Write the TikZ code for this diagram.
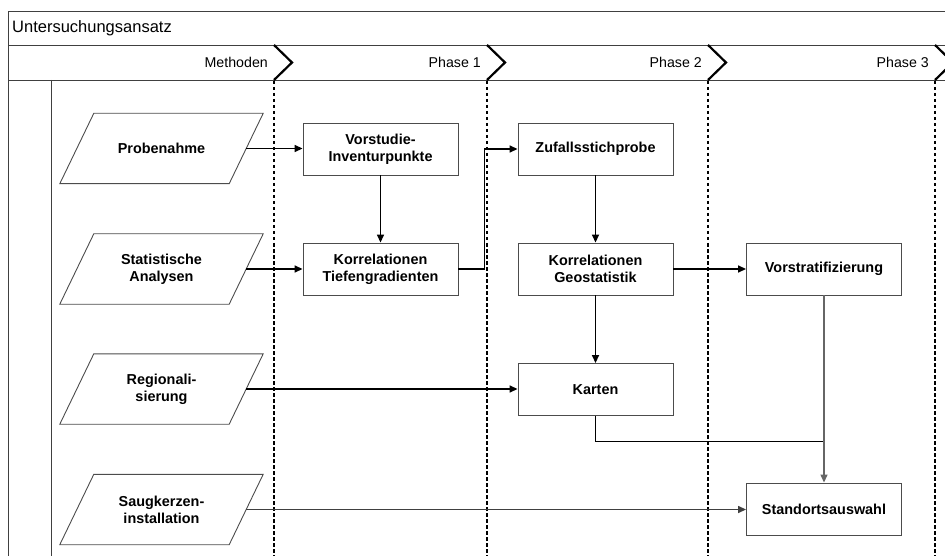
\documentclass[tikz,border=0pt]{standalone}
\usepackage{fontspec}
\setmainfont{Liberation Sans}
\usetikzlibrary{arrows.meta}
\begin{document}
\begin{tikzpicture}[x=1pt,y=-1pt,
  frame/.style={draw=black!75, line width=0.9pt},
  chev/.style={line width=2.2pt, line join=miter, miter limit=4},
  phaseline/.style={line width=2.3pt, dash pattern=on 3.5pt off 2.5pt},
  hdr/.style={anchor=east, inner sep=0pt, font=\fontsize{14.2}{17}\selectfont},
  box/.style={draw=black!70, fill=white, line width=0.9pt, minimum width=155pt, minimum height=52pt, align=center, font=\fontsize{14.4}{17}\selectfont\bfseries, inner sep=0pt},
  para/.style={minimum width=169pt, minimum height=70pt, align=center, font=\fontsize{14.4}{17}\selectfont\bfseries, inner sep=0pt},
  paraline/.style={draw=black!70, line width=0.9pt, line join=miter},
  arr/.style={line width=1.6pt, -{Triangle[length=8pt,width=7pt]}},
  link/.style={line width=1.6pt},
  ]
\useasboundingbox (0,0) rectangle (945,556);
% frame
\draw[frame] (945,11) -- (8,11) -- (8,556);
\draw[frame] (8,45) -- (945,45);
\draw[frame] (8,80) -- (945,80);
\draw[frame] (51,80) -- (51,556);
\node[anchor=west, inner sep=0pt, font=\fontsize{16.5}{19}\selectfont] (title) at (12,28) {Untersuchungsansatz};
% phase headers
\foreach \xx/\nm/\lab in {274/m/Methoden, 487/p1/Phase 1, 708/p2/Phase 2, 935/p3/Phase 3}{
  \node[hdr] (h\nm) at (\xx-6,62.5) {\lab};
  \draw[phaseline] (\xx,81) -- (\xx,556);
  \draw[chev] (\xx,45) -- (\xx+18,62.5) -- (\xx,80);
}
% methods (parallelograms)
\node[para] (prob) at (161.5,148.5) {Probenahme};
\node[para] (stat) at (161.5,269) {Statistische\\Analysen};
\node[para] (reg) at (161.5,389) {Regionali-\\sierung};
\node[para] (saug) at (161.5,509.5) {Saugkerzen-\\installation};
\foreach \p in {prob,stat,reg,saug}{
  \draw[paraline] ([xshift=-17pt]\p.south west) -- ([xshift=17pt]\p.north west)
     -- ([xshift=17pt]\p.north east) -- ([xshift=-17pt]\p.south east) -- cycle;
}
% boxes
\node[box] (vor) at (380.5,149) {Vorstudie-\\Inventurpunkte};
\node[box] (kt) at (380.5,269) {Korrelationen\\Tiefengradienten};
\node[box] (zuf) at (595.5,149) {Zufallsstichprobe};
\node[box] (kg) at (595.5,269) {Korrelationen\\Geostatistik};
\node[box] (vst) at (824,269) {Vorstratifizierung};
\node[box] (kar) at (595.5,389.5) {Karten};
\node[box] (sta) at (824,509) {Standortsauswahl};
% connectors
\draw[arr] (prob.east) -- (prob.east -| vor.west);
\draw[arr] (vor) -- (kt);
\draw[arr] (stat.east) -- (kt.west);
\draw[arr] (kt.east) -- ++(26,0) |- (zuf.west);
\draw[arr] (zuf) -- (kg);
\draw[arr] (kg) -- (kar);
\draw[arr] (kg) -- (vst);
\draw[arr] (reg.east) -- (reg.east -| kar.west);
\path (vst.south) ++(0,146) coordinate (j);
\draw[link] (kar.south) |- (j);
\draw[arr, line width=1.3pt, draw=black!60, fill=black!60] (vst) -- (sta);
\draw[arr, line width=1.4pt, draw=black!75] (saug.east) -- (saug.east -| sta.west);
\end{tikzpicture}
\end{document}
